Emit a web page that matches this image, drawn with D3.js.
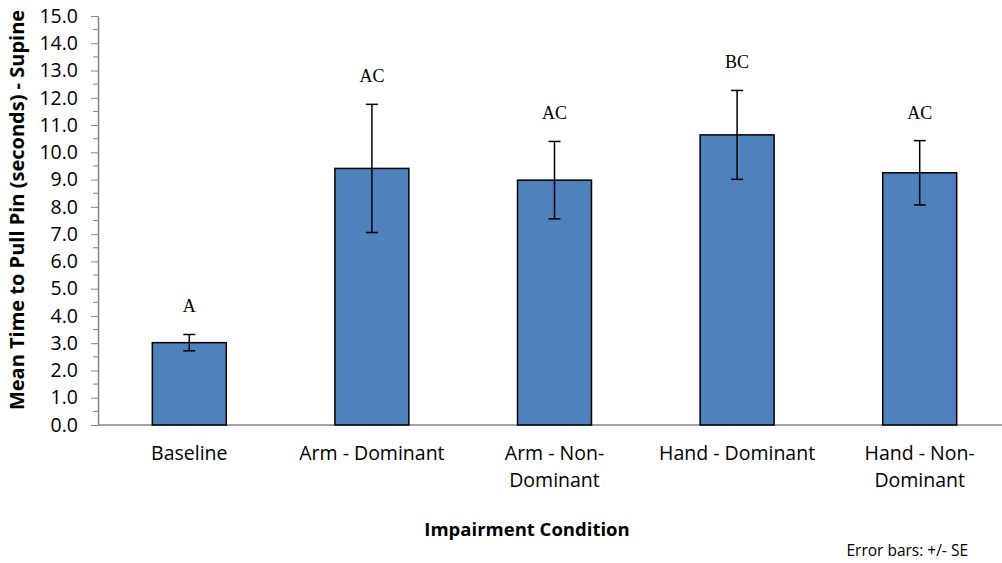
<!DOCTYPE html>
<html><head><meta charset="utf-8">
<script src="https://cdn.jsdelivr.net/npm/d3@7"></script>
<style>body{margin:0;background:#fff}svg{display:block}</style>
</head><body>
<script>
const categories = [["Baseline"],["Arm - Dominant"],["Arm - Non-","Dominant"],["Hand - Dominant"],["Hand - Non-","Dominant"]];
const means = [3.02, 9.41, 8.98, 10.64, 9.25];
const se = [0.30, 2.35, 1.42, 1.63, 1.18];
const letters = ["A","AC","AC","BC","AC"];
const yTicks = d3.range(0, 15.01, 1);

const W = 1002, H = 563;
const svg = d3.select("body").append("svg").attr("width", W).attr("height", H);
const x = d3.scaleBand().domain(d3.range(categories.length)).range([98, 1011]).paddingInner(0.595).paddingOuter(0.2975);
const y = d3.scaleLinear().domain([0, 15]).range([425, 16]);
const font = "'Open Sans', sans-serif";

// minor ticks
svg.append("g").selectAll("line").data(d3.range(0.5, 15, 1)).join("line")
  .attr("x1", 93).attr("x2", 98).attr("y1", d => y(d)).attr("y2", d => y(d))
  .attr("stroke", "#868686").attr("stroke-width", 1);

const yAxis = svg.append("g").attr("transform", "translate(98,0)")
  .call(d3.axisLeft(y).tickValues(yTicks).tickFormat(d3.format(".1f")).tickSize(7).tickSizeOuter(0));
yAxis.select(".domain").attr("stroke", "#868686").attr("stroke-width", 1.5);
yAxis.selectAll(".tick line").attr("stroke", "#868686");
yAxis.selectAll(".tick text").attr("font-family", font).attr("font-size", 19.5).attr("fill", "#000").attr("x", -20);

// x axis line
svg.append("line").attr("x1", 98).attr("x2", 1002).attr("y1", y(0)).attr("y2", y(0)).attr("stroke", "#868686").attr("stroke-width", 1.5);

// bars
svg.append("g").selectAll("rect").data(means).join("rect")
  .attr("x", (d, i) => x(i)).attr("width", x.bandwidth())
  .attr("y", d => y(d)).attr("height", d => y(0) - y(d))
  .attr("fill", "#4F81BD").attr("stroke", "#000").attr("stroke-width", 1.5);

// error bars
const eb = svg.append("g").attr("stroke", "#000").attr("stroke-width", 1.5);
means.forEach((m, i) => {
  const cx = x(i) + x.bandwidth() / 2;
  eb.append("line").attr("x1", cx).attr("x2", cx).attr("y1", y(m + se[i])).attr("y2", y(m - se[i]));
  eb.append("line").attr("x1", cx - 6).attr("x2", cx + 6).attr("y1", y(m + se[i])).attr("y2", y(m + se[i]));
  eb.append("line").attr("x1", cx - 6).attr("x2", cx + 6).attr("y1", y(m - se[i])).attr("y2", y(m - se[i]));
});

// letters
svg.append("g").selectAll("text").data(letters).join("text")
  .attr("x", (d, i) => x(i) + x.bandwidth() / 2)
  .attr("y", (d, i) => y(means[i] + se[i]) - 22)
  .attr("text-anchor", "middle").attr("font-family", "'Liberation Serif', serif").attr("font-size", 18).text(d => d);

// category labels
const cl = svg.append("g").attr("font-family", font).attr("font-size", 19.5).attr("text-anchor", "middle");
categories.forEach((lines, i) => {
  const t = cl.append("text").attr("x", x(i) + x.bandwidth() / 2).attr("y", 460);
  lines.forEach((l, j) => t.append("tspan").attr("x", x(i) + x.bandwidth() / 2).attr("dy", j ? 27 : 0).text(l));
});

// axis titles
svg.append("text").attr("transform", "translate(24,210) rotate(-90)").attr("text-anchor", "middle")
  .attr("font-family", font).attr("font-weight", "bold").attr("font-size", 20).text("Mean Time to Pull Pin (seconds) - Supine");
svg.append("text").attr("x", 527).attr("y", 536).attr("text-anchor", "middle")
  .attr("font-family", font).attr("font-weight", "bold").attr("font-size", 18.5).text("Impairment Condition");
svg.append("text").attr("x", 968).attr("y", 556).attr("text-anchor", "end")
  .attr("font-family", font).attr("font-size", 15.5).text("Error bars: +/- SE");
</script>
</body></html>
